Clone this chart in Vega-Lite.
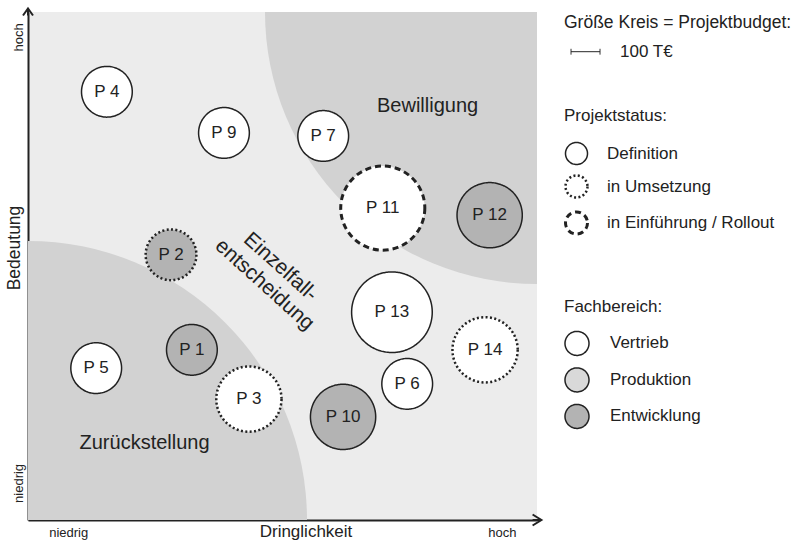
{
  "$schema": "https://vega.github.io/schema/vega-lite/v6.json",
  "width": 509,
  "height": 508,
  "autosize": {"type": "none"},
  "padding": {"left": 28, "top": 12, "right": 264, "bottom": 21},
  "background": "white",
  "config": {
    "font": "Liberation Sans",
    "view": {"fill": "#ececec", "stroke": null},
    "axis": {
      "labelFont": "Liberation Sans", "titleFont": "Liberation Sans",
      "labelColor": "#222", "titleColor": "#222", "titleFontWeight": "normal",
      "grid": false, "ticks": false, "domainColor": "#222", "domainWidth": 2,
      "labelFontSize": 13, "titleFontSize": 17.5, "labelOverlap": false, "labelFlush": false, "zindex": 1
    },
    "legend": {
      "titleFont": "Liberation Sans", "labelFont": "Liberation Sans",
      "titleFontSize": 17, "labelFontSize": 17, "titleFontWeight": "normal",
      "titleColor": "#222", "labelColor": "#222", "padding": 0,
      "titleLimit": 400, "labelLimit": 400, "orient": "none"
    }
  },
  "datasets": {
    "projects": [
      {"id": "P 1", "x": 3.22, "y": 3.35, "budget": 175, "status": "Definition", "bereich": "Entwicklung"},
      {"id": "P 2", "x": 2.81, "y": 5.22, "budget": 175, "status": "in Umsetzung", "bereich": "Entwicklung"},
      {"id": "P 3", "x": 4.34, "y": 2.38, "budget": 225, "status": "in Umsetzung", "bereich": "Vertrieb"},
      {"id": "P 4", "x": 1.55, "y": 8.43, "budget": 175, "status": "Definition", "bereich": "Vertrieb"},
      {"id": "P 5", "x": 1.34, "y": 2.99, "budget": 175, "status": "Definition", "bereich": "Vertrieb"},
      {"id": "P 6", "x": 7.45, "y": 2.68, "budget": 175, "status": "Definition", "bereich": "Vertrieb"},
      {"id": "P 7", "x": 5.80, "y": 7.56, "budget": 175, "status": "Definition", "bereich": "Vertrieb"},
      {"id": "P 9", "x": 3.85, "y": 7.62, "budget": 175, "status": "Definition", "bereich": "Vertrieb"},
      {"id": "P 10", "x": 6.19, "y": 2.03, "budget": 225, "status": "Definition", "bereich": "Entwicklung"},
      {"id": "P 11", "x": 6.97, "y": 6.14, "budget": 290, "status": "in Einführung / Rollout", "bereich": "Vertrieb"},
      {"id": "P 12", "x": 9.07, "y": 6.00, "budget": 225, "status": "Definition", "bereich": "Entwicklung"},
      {"id": "P 13", "x": 7.15, "y": 4.09, "budget": 278, "status": "Definition", "bereich": "Vertrieb"},
      {"id": "P 14", "x": 8.98, "y": 3.35, "budget": 225, "status": "in Umsetzung", "bereich": "Vertrieb"}
    ],
    "zones": [
      {"label": "Bewilligung", "x": 7.85, "y": 8.03},
      {"label": "Zurückstellung", "x": 2.29, "y": 1.40}
    ]
  },
  "layer": [
    {
      "data": {"values": [{"x": 0, "y": 0}]},
      "mark": {"type": "arc", "theta": 0, "theta2": 1.5708, "outerRadius": 279, "fill": "#d2d2d2"},
      "encoding": {
        "x": {
          "field": "x", "type": "quantitative",
          "scale": {"domain": [0, 10], "nice": false, "zero": false},
          "axis": {
            "values": [0.79, 9.31],
            "labelExpr": "datum.value < 5 ? 'niedrig' : 'hoch'",
            "labelPadding": 6,
            "title": "Dringlichkeit", "titleFontSize": 17,
            "titleX": 277.5, "titleY": 16, "titleBaseline": "alphabetic", "titleAlign": "center"
          }
        },
        "y": {
          "field": "y", "type": "quantitative",
          "scale": {"domain": [0, 10], "nice": false, "zero": false},
          "axis": {
            "values": [0.73, 9.51],
            "labelExpr": "datum.value < 5 ? 'niedrig' : 'hoch'",
            "labelAngle": 270, "labelAlign": "center", "labelBaseline": "alphabetic",
            "labelPadding": 6,
            "title": "Bedeutung",
            "titleX": -9, "titleY": 235.5, "titleAngle": 270, "titleBaseline": "alphabetic", "titleAlign": "center"
          }
        }
      }
    },
    {
      "data": {"values": [{"x": 10, "y": 10}]},
      "mark": {"type": "arc", "theta": 3.14159, "theta2": 4.71239, "outerRadius": 272, "fill": "#d2d2d2"},
      "encoding": {
        "x": {"field": "x", "type": "quantitative"},
        "y": {"field": "y", "type": "quantitative"}
      }
    },
    {
      "mark": {"type": "rule", "color": "white", "strokeWidth": 2.5},
      "encoding": {"x": {"datum": 5, "type": "quantitative"}}
    },
    {
      "mark": {"type": "rule", "color": "white", "strokeWidth": 2.5},
      "encoding": {"y": {"datum": 5, "type": "quantitative"}}
    },
    {
      "data": {"name": "zones"},
      "mark": {"type": "text", "fontSize": 20, "color": "#222", "baseline": "alphabetic", "align": "center", "font": "Liberation Sans"},
      "encoding": {
        "x": {"field": "x", "type": "quantitative"},
        "y": {"field": "y", "type": "quantitative"},
        "text": {"field": "label", "type": "nominal"}
      }
    },
    {
      "data": {"values": [{"label": ["Einzelfall-", "entscheidung"], "x": 4.96, "y": 4.98}]},
      "mark": {"type": "text", "fontSize": 21, "angle": 42, "lineHeight": 24, "baseline": "middle", "align": "center", "color": "#222", "font": "Liberation Sans"},
      "encoding": {
        "x": {"field": "x", "type": "quantitative"},
        "y": {"field": "y", "type": "quantitative"},
        "text": {"field": "label", "type": "nominal"}
      }
    },
    {
      "data": {"name": "projects"},
      "mark": {"type": "point", "shape": "circle", "filled": true, "stroke": "#222", "opacity": 1},
      "encoding": {
        "x": {"field": "x", "type": "quantitative"},
        "y": {"field": "y", "type": "quantitative"},
        "fill": {
          "field": "bereich", "type": "nominal",
          "scale": {"domain": ["Vertrieb", "Produktion", "Entwicklung"], "range": ["#ffffff", "#d9d9d9", "#b3b3b3"]},
          "legend": {
            "title": "Fachbereich:", "legendX": 536, "legendY": 287.4,
            "symbolType": "circle", "symbolSize": 576, "symbolStrokeWidth": 1.5,
            "symbolStrokeColor": "#222", "symbolDash": [1, 0], "symbolOpacity": 1,
            "titlePadding": 14, "rowPadding": 6.5, "labelOffset": 20
          }
        },
        "strokeDash": {
          "field": "status", "type": "nominal",
          "scale": {"domain": ["Definition", "in Umsetzung", "in Einführung / Rollout"], "range": [[1, 0], [2, 2.4], [6, 4]]},
          "legend": {
            "title": "Projektstatus:", "legendX": 536, "legendY": 96,
            "symbolType": "circle", "symbolSize": 484, "symbolStrokeWidth": 2.5,
            "symbolFillColor": "white", "symbolStrokeColor": "#222", "symbolOpacity": 1,
            "titlePadding": 16.5, "rowPadding": 2.5, "labelOffset": 18
          }
        },
        "strokeWidth": {
          "field": "status", "type": "nominal",
          "scale": {"type": "ordinal", "domain": ["Definition", "in Umsetzung", "in Einführung / Rollout"], "range": [1.5, 2.5, 3]},
          "legend": null
        },
        "size": {
          "field": "budget", "type": "quantitative",
          "scale": {"type": "pow", "exponent": 2, "domain": [0, 100], "range": [0, 841]},
          "legend": {
            "title": "Größe Kreis = Projektbudget:", "values": [100], "labelExpr": "'100 T€'",
            "legendX": 536, "legendY": 2.2,
            "symbolType": "M-0.55,-0.2V0.2M-0.55,0H1.45M1.45,-0.2V0.2", "symbolStrokeWidth": 1,
            "symbolFillColor": "transparent", "symbolStrokeColor": "#222", "symbolDash": [1, 0], "symbolOpacity": 1,
            "titlePadding": 5, "labelOffset": 26, "titleFontSize": 17.5
          }
        }
      }
    },
    {
      "data": {"name": "projects"},
      "mark": {"type": "text", "fontSize": 17, "color": "#222", "baseline": "middle", "align": "center", "font": "Liberation Sans"},
      "encoding": {
        "x": {"field": "x", "type": "quantitative"},
        "y": {"field": "y", "type": "quantitative"},
        "text": {"field": "id", "type": "nominal"}
      }
    },
    {
      "data": {"values": [{"x": 0, "y": 10}]},
      "mark": {"type": "point", "shape": "M-1,0.7L0,-0.7L1,0.7M0,-0.7L0,0.7", "size": 100, "filled": false, "stroke": "#222", "strokeWidth": 2, "opacity": 1, "clip": false},
      "encoding": {
        "x": {"field": "x", "type": "quantitative"},
        "y": {"field": "y", "type": "quantitative"}
      }
    },
    {
      "data": {"values": [{"x": 10, "y": 0}]},
      "mark": {"type": "point", "shape": "M-0.8,-1L0.8,0L-0.8,1M-0.8,0L0.8,0", "size": 121, "filled": false, "stroke": "#222", "strokeWidth": 2, "opacity": 1, "clip": false},
      "encoding": {
        "x": {"field": "x", "type": "quantitative"},
        "y": {"field": "y", "type": "quantitative"}
      }
    }
  ]
}
